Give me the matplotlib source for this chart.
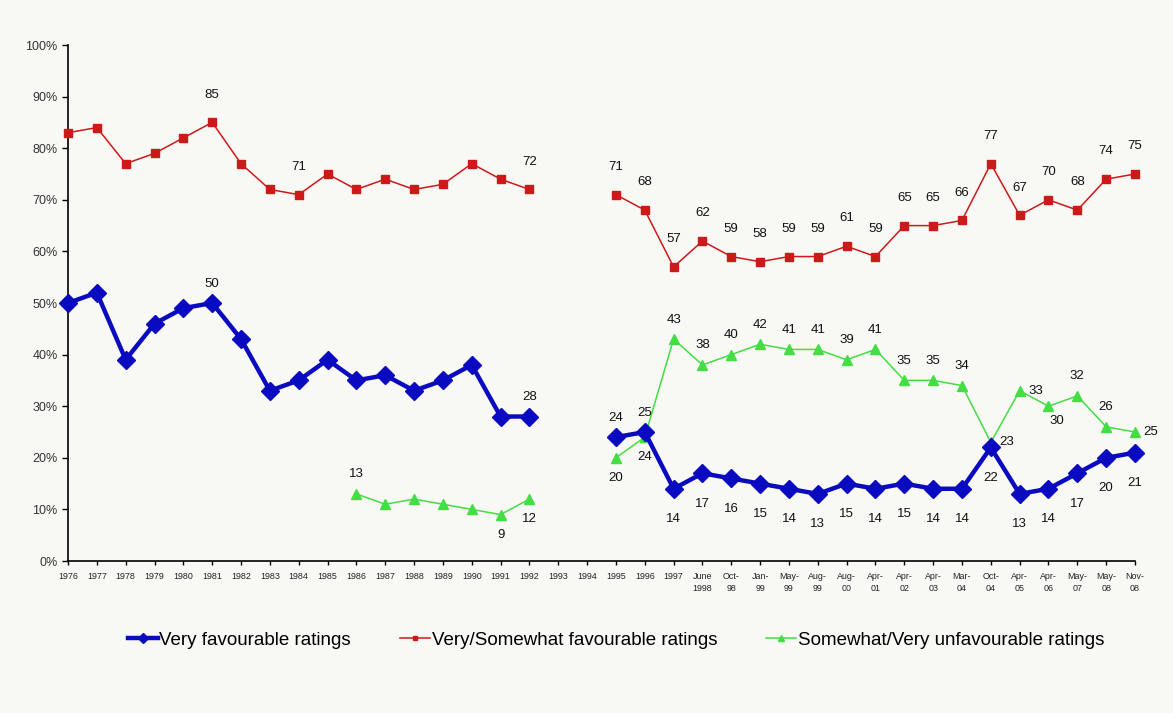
import numpy as np
import matplotlib.pyplot as plt
from matplotlib import font_manager

nan = np.nan

periods = ["1976", "1977", "1978", "1979", "1980", "1981", "1982", "1983", "1984",
           "1985", "1986", "1987", "1988", "1989", "1990", "1991", "1992", "1993",
           "1994", "1995", "1996", "1997", "June\n1998", "Oct-\n98", "Jan-\n99",
           "May-\n99", "Aug-\n99", "Aug-\n00", "Apr-\n01", "Apr-\n02", "Apr-\n03",
           "Mar-\n04", "Oct-\n04", "Apr-\n05", "Apr-\n06", "May-\n07", "May-\n08",
           "Nov-\n08"]

very_fav = [50, 52, 39, 46, 49, 50, 43, 33, 35, 39, 35, 36, 33, 35, 38, 28, 28, nan, nan,
            24, 25, 14, 17, 16, 15, 14, 13, 15, 14, 15, 14, 14, 22, 13, 14, 17, 20, 21]
fav = [83, 84, 77, 79, 82, 85, 77, 72, 71, 75, 72, 74, 72, 73, 77, 74, 72, nan, nan,
       71, 68, 57, 62, 59, 58, 59, 59, 61, 59, 65, 65, 66, 77, 67, 70, 68, 74, 75]
unfav = [nan, nan, nan, nan, nan, nan, nan, nan, nan, nan, 13, 11, 12, 11, 10, 9, 12, nan, nan,
         20, 24, 43, 38, 40, 42, 41, 41, 39, 41, 35, 35, 34, 23, 33, 30, 32, 26, 25]

series_names = ["Very favourable ratings", "Very/Somewhat favourable ratings",
                "Somewhat/Very unfavourable ratings"]

# which points carry a value label, and where it goes
red_labels = {i: "a" for i in [5, 8, 16] + list(range(19, 38))}
blue_labels = {5: "a", 16: "a", 19: "a", 20: "a"}
blue_labels.update({i: "b" for i in range(21, 38)})
green_labels = {10: "a", 15: "b", 16: "b", 19: "b", 20: "b", 32: "r", 33: "r",
                34: "br", 35: "a", 36: "a", 37: "r"}
green_labels.update({i: "a" for i in range(21, 32)})

plt.rcParams['font.family'] = ['Liberation Sans', 'DejaVu Sans']

try:
    font_manager.findfont("Liberation Sans Narrow", fallback_to_default=False)
    leg_font = {"family": "Liberation Sans Narrow", "size": 15}
except Exception:
    leg_font = {"family": "Liberation Sans", "size": 13.5}

fig = plt.figure(figsize=(11.73, 7.13), dpi=100, facecolor="#f8f8f4")
ax = fig.add_axes([68 / 1173, 152 / 713, (1135 - 68) / 1173, 516 / 713])
ax.set_facecolor("#f8f8f4")

x = np.arange(len(periods))
blue = "#0a0ac0"
red = "#cc1a1a"
green = "#44dd44"

ax.plot(x, fav, color=red, lw=1.1, marker="s", ms=6, label=series_names[1], zorder=3)
ax.plot(x, unfav, color=green, lw=1.1, marker="^", ms=6.5, label=series_names[2], zorder=3)
ax.plot(x, very_fav, color=blue, lw=3.2, marker="D", ms=9, label=series_names[0], zorder=4)


def put_labels(vals, where, offs):
    for i, pos in where.items():
        dx, dy, ha = offs[pos]
        ax.annotate(f"{vals[i]:.0f}", (x[i], vals[i]), xytext=(dx, dy),
                    textcoords="offset points", ha=ha, va="center",
                    fontsize=9.5, color="#111")


put_labels(fav, red_labels, {"a": (0, 20, "center")})
put_labels(very_fav, blue_labels, {"a": (0, 14, "center"), "b": (0, -22, "center")})
put_labels(unfav, green_labels, {"a": (0, 14, "center"), "b": (0, -14.5, "center"),
                                 "r": (6, 0, "left"), "br": (6, -11, "center")})

ax.set_xlim(0, len(periods) - 1)
ax.set_ylim(0, 100)
ax.set_yticks(np.arange(0, 101, 10))
ax.set_yticklabels([f"{v}%" for v in range(0, 101, 10)], fontsize=9, color="#333")
ax.set_xticks(x)
ax.set_xticklabels(periods, fontsize=6.4, color="#222", linespacing=1.35)
ax.tick_params(axis="y", direction="out", length=4, width=1)
ax.tick_params(axis="x", direction="out", length=3, width=1, pad=5)
for s in ["top", "right"]:
    ax.spines[s].set_visible(False)
ax.spines["left"].set_linewidth(1.2)
ax.spines["bottom"].set_linewidth(1.2)
for ln in ax.lines:
    ln.set_clip_on(False)

handles, labels = ax.get_legend_handles_labels()
order = [2, 0, 1]
fig.legend([handles[i] for i in order], [labels[i] for i in order],
           loc="center", bbox_to_anchor=(0.525, 0.102), ncol=3, frameon=False,
           prop=leg_font, handlelength=1.6, columnspacing=2.6, handletextpad=0.1,
           markerscale=0.6)

fig.savefig("out.png", dpi=100, facecolor=fig.get_facecolor())
